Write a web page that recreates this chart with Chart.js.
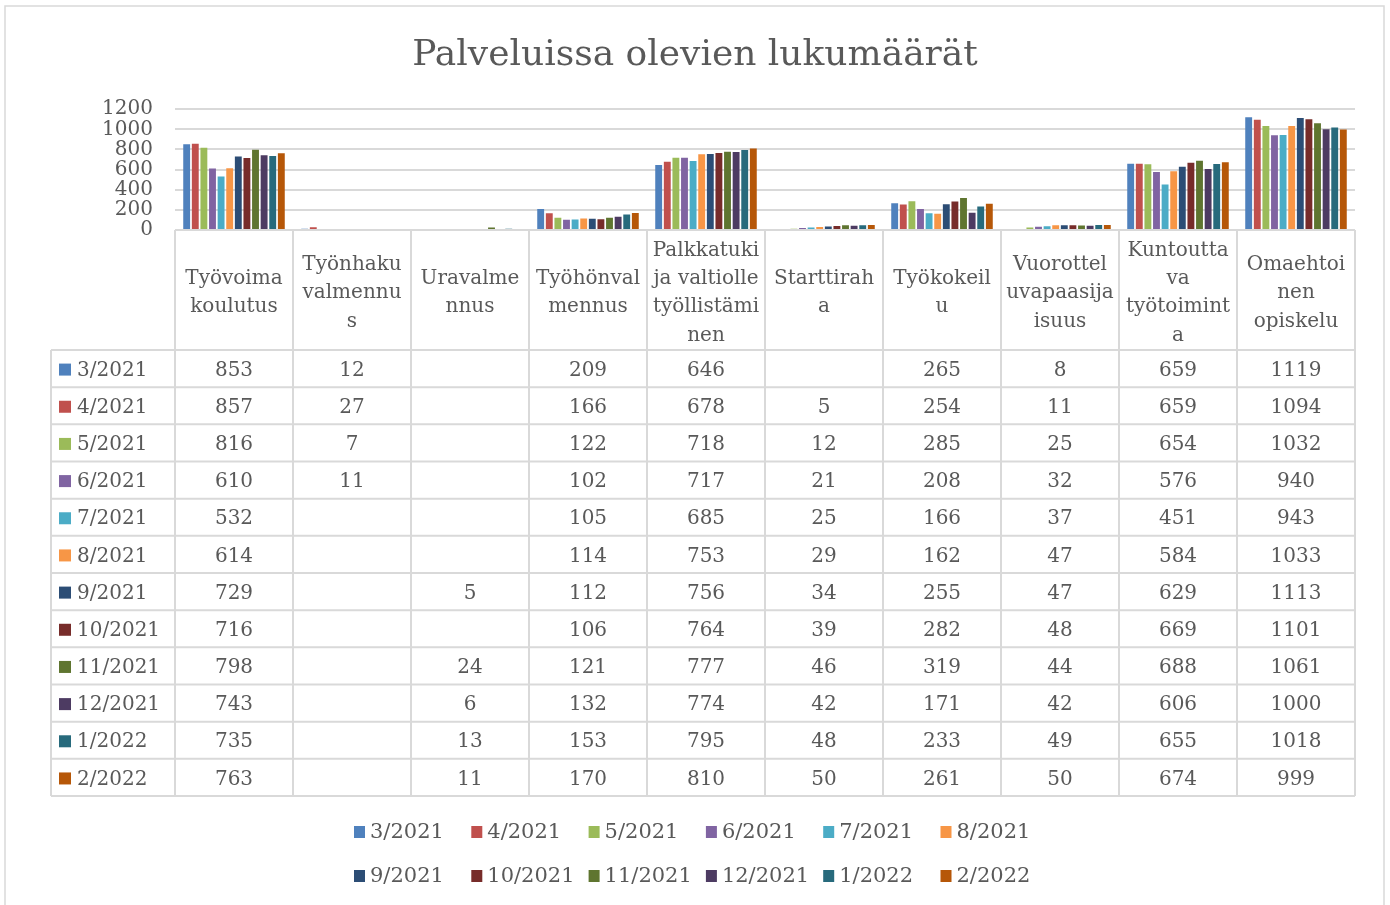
<!DOCTYPE html>
<html>
<head>
<meta charset="utf-8">
<script src="https://cdn.jsdelivr.net/npm/chart.js@4.4.1/dist/chart.umd.min.js"></script>
<style>
html,body{margin:0;padding:0;background:#fff;}
#wrap{width:1390px;height:905px;position:relative;}
</style>
</head>
<body>
<div id="wrap"><canvas id="c"></canvas></div>
<script>
// ---------- DATA ----------
const chartTitle = 'Palveluissa olevien lukumäärät';
const categories = [
  ['Työvoima', 'koulutus'],
  ['Työnhaku', 'valmennu', 's'],
  ['Uravalme', 'nnus'],
  ['Työhönval', 'mennus'],
  ['Palkkatuki', 'ja valtiolle', 'työllistämi', 'nen'],
  ['Starttirah', 'a'],
  ['Työkokeil', 'u'],
  ['Vuorottel', 'uvapaasija', 'isuus'],
  ['Kuntoutta', 'va', 'työtoimint', 'a'],
  ['Omaehtoi', 'nen', 'opiskelu']
];
const seriesNames = ['3/2021', '4/2021', '5/2021', '6/2021', '7/2021', '8/2021',
                     '9/2021', '10/2021', '11/2021', '12/2021', '1/2022', '2/2022'];
const m2021_03 = [853, 12, null, 209, 646, null, 265, 8, 659, 1119];
const m2021_04 = [857, 27, null, 166, 678, 5, 254, 11, 659, 1094];
const m2021_05 = [816, 7, null, 122, 718, 12, 285, 25, 654, 1032];
const m2021_06 = [610, 11, null, 102, 717, 21, 208, 32, 576, 940];
const m2021_07 = [532, null, null, 105, 685, 25, 166, 37, 451, 943];
const m2021_08 = [614, null, null, 114, 753, 29, 162, 47, 584, 1033];
const m2021_09 = [729, null, 5, 112, 756, 34, 255, 47, 629, 1113];
const m2021_10 = [716, null, null, 106, 764, 39, 282, 48, 669, 1101];
const m2021_11 = [798, null, 24, 121, 777, 46, 319, 44, 688, 1061];
const m2021_12 = [743, null, 6, 132, 774, 42, 171, 42, 606, 1000];
const m2022_01 = [735, null, 13, 153, 795, 48, 233, 49, 655, 1018];
const m2022_02 = [763, null, 11, 170, 810, 50, 261, 50, 674, 999];
const seriesValues = [m2021_03, m2021_04, m2021_05, m2021_06, m2021_07, m2021_08,
                      m2021_09, m2021_10, m2021_11, m2021_12, m2022_01, m2022_02];
const yTicks = [0, 200, 400, 600, 800, 1000, 1200];

// ---------- STYLE ----------
const seriesColors = ['#4F81BD', '#C0504D', '#9BBB59', '#8064A2', '#4BACC6', '#F79646',
                      '#2C4D75', '#772C2A', '#5F7530', '#4D3B62', '#276A7C', '#B65708'];
const FONT = 'DejaVu Serif';
const TEXT = '#595959';
const LINE = '#D9D9D9';

const datasets = seriesNames.map((name, i) => ({
  label: name,
  data: seriesValues[i],
  backgroundColor: seriesColors[i],
  borderWidth: 0,
  categoryPercentage: 0.875,
  barPercentage: 0.8
}));

const tablePlugin = {
  id: 'dataTableAndLegend',
  afterDraw(chart) {
    const ctx = chart.ctx;
    const xs = chart.scales.x;
    const ca = chart.chartArea;
    const n = categories.length;
    const colW = xs.width / n;
    const headTop = ca.bottom;
    const headBot = headTop + 120;
    const rowH = 37.17;
    const tableLeft = 51;
    const nRows = seriesNames.length;
    const tableBot = headBot + rowH * nRows;

    ctx.save();
    // outer chart border
    ctx.strokeStyle = LINE;
    ctx.lineWidth = 1.5;
    ctx.strokeRect(5, 6, 1379, 905);

    // table grid
    ctx.lineWidth = 2;
    ctx.strokeStyle = LINE;
    ctx.beginPath();
    for (let k = 0; k <= n; k++) {
      const x = xs.getPixelForValue(0) - colW / 2 + k * colW;
      ctx.moveTo(x, headTop);
      ctx.lineTo(x, tableBot);
    }
    ctx.moveTo(tableLeft, headBot);
    ctx.lineTo(tableLeft, tableBot);
    ctx.moveTo(ca.left, headTop);
    ctx.lineTo(ca.right, headTop);
    for (let r = 0; r <= nRows; r++) {
      const y = headBot + r * rowH;
      ctx.moveTo(tableLeft, y);
      ctx.lineTo(ca.right, y);
    }
    ctx.stroke();

    // header labels
    ctx.fillStyle = TEXT;
    ctx.font = '20px "' + FONT + '"';
    ctx.textAlign = 'center';
    ctx.textBaseline = 'middle';
    const lh = 28.4;
    categories.forEach((lines, i) => {
      const cx = xs.getPixelForValue(i);
      const cy = (headTop + headBot) / 2 + 3;
      lines.forEach((t, j) => {
        ctx.fillText(t, cx, cy + (j - (lines.length - 1) / 2) * lh);
      });
    });

    // rows
    seriesNames.forEach((name, r) => {
      const cy = headBot + r * rowH + rowH / 2 + 2;
      ctx.fillStyle = seriesColors[r];
      ctx.fillRect(59, cy - 7, 12, 12);
      ctx.fillStyle = TEXT;
      ctx.textAlign = 'left';
      ctx.fillText(name, 77, cy);
      ctx.textAlign = 'center';
      seriesValues[r].forEach((v, i) => {
        if (v === null || v === undefined) return;
        ctx.fillText(String(v), xs.getPixelForValue(i), cy);
      });
    });

    // legend (two rows of six, fixed columns)
    ctx.font = '21px "' + FONT + '"';
    const legStartX = 354;
    const legColW = 117.3;
    const legRowY = [833, 877];
    seriesNames.forEach((name, i) => {
      const row = Math.floor(i / 6), col = i % 6;
      const x = legStartX + col * legColW;
      const y = legRowY[row];
      ctx.fillStyle = seriesColors[i];
      ctx.fillRect(x, y - 7, 11, 12);
      ctx.fillStyle = TEXT;
      ctx.textAlign = 'left';
      ctx.fillText(name, x + 16, y);
    });
    ctx.restore();
  }
};

new Chart(document.getElementById('c'), {
  type: 'bar',
  data: { labels: categories, datasets: datasets },
  options: {
    responsive: true,
    maintainAspectRatio: false,
    animation: false,
    layout: { padding: { left: 35, right: 35, top: 0, bottom: 675 } },
    plugins: {
      legend: { display: false },
      tooltip: { enabled: false },
      title: {
        display: true,
        text: chartTitle,
        color: TEXT,
        font: { family: FONT, size: 36, weight: 'normal' },
        padding: { top: 34, bottom: 32 }
      }
    },
    scales: {
      x: { display: false },
      y: {
        min: 0,
        max: 1200,
        afterBuildTicks: (scale) => { scale.ticks = yTicks.map(v => ({ value: v })); },
        afterFit: (scale) => { scale.width = 140; },
        border: { display: false },
        grid: { color: LINE, lineWidth: 2, drawTicks: false },
        ticks: {
          autoSkip: false,
          padding: 22,
          color: TEXT,
          font: { family: FONT, size: 20 },
          callback: (v) => String(v)
        }
      }
    }
  },
  plugins: [tablePlugin]
});
</script>
</body>
</html>
